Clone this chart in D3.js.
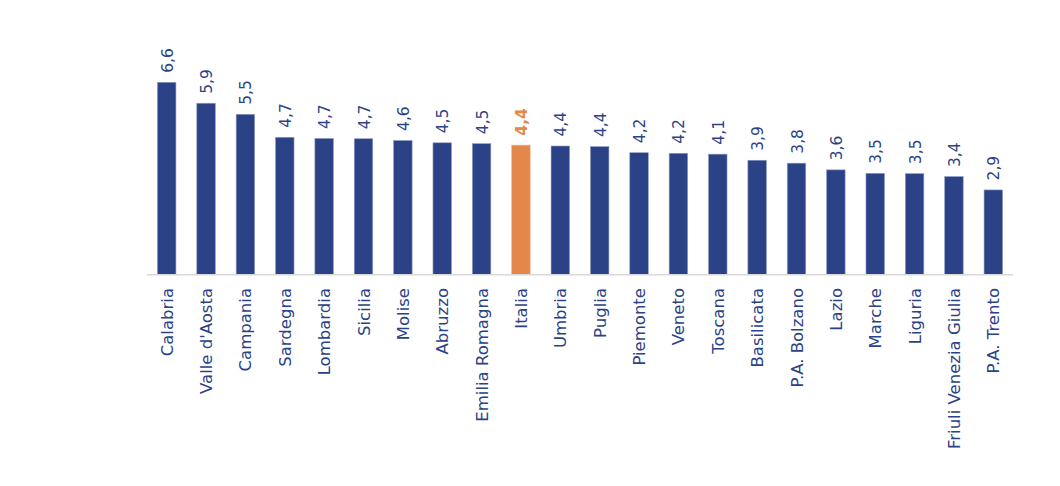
<!DOCTYPE html>
<html>
<head>
<meta charset="utf-8">
<script src="https://cdn.jsdelivr.net/npm/d3@7"></script>
<style>
  body { margin: 0; background: #fff; }
  svg text { font-family: "DejaVu Sans", sans-serif; }
</style>
</head>
<body>
<svg id="chart"></svg>
<script>
const width = 1060, height = 486;

const regions = ["Calabria", "Valle d'Aosta", "Campania", "Sardegna", "Lombardia", "Sicilia", "Molise",
    "Abruzzo", "Emilia Romagna", "Italia", "Umbria", "Puglia", "Piemonte", "Veneto", "Toscana",
    "Basilicata", "P.A. Bolzano", "Lazio", "Marche", "Liguria", "Friuli Venezia Giulia", "P.A. Trento"];
const values = [6.60, 5.88, 5.50, 4.71, 4.67, 4.66, 4.60, 4.52, 4.49, 4.44, 4.41, 4.39, 4.18, 4.16,
    4.13, 3.92, 3.82, 3.59, 3.47, 3.46, 3.36, 2.90];
const highlight = "Italia";

const data = regions.map((r, i) => ({name: r, value: values[i]}));

const svg = d3.select("#chart").attr("width", width).attr("height", height);

const baseY = 274.3;
const x = d3.scaleBand()
    .domain(regions)
    .range([147, 1013])
    .paddingInner(0.53)
    .paddingOuter(0.265);
const y = d3.scaleLinear().domain([0, 6.6]).range([baseY, 82.3]);

const blue = "#2B4386", orange = "#E3874A";
const fmt = v => d3.format(".1f")(v).replace(".", ",");

// bars
svg.selectAll(".bar")
    .data(data)
    .enter().append("rect")
    .attr("class", "bar")
    .attr("x", d => x(d.name))
    .attr("width", x.bandwidth())
    .attr("y", d => y(d.value))
    .attr("height", d => baseY - y(d.value))
    .attr("fill", d => d.name === highlight ? orange : blue)
    .attr("stroke", d => d.name === highlight ? "#f0b48c" : "#8e9cc4")
    .attr("stroke-width", 0.6);

// baseline
svg.append("line")
    .attr("x1", x.range()[0]).attr("x2", x.range()[1])
    .attr("y1", baseY + 0.5).attr("y2", baseY + 0.5)
    .attr("stroke", "#d9d9d9")
    .attr("stroke-width", 1.5);

// value labels
svg.selectAll(".val")
    .data(data)
    .enter().append("text")
    .attr("class", "val")
    .attr("transform", d => `translate(${x(d.name) + x.bandwidth() / 2 + 6},${y(d.value) - 9.5}) rotate(-90)`)
    .attr("text-anchor", "start")
    .attr("font-size", 15.5)
    .attr("font-weight", d => d.name === highlight ? "bold" : "normal")
    .attr("fill", d => d.name === highlight ? orange : blue)
    .text(d => fmt(d.value));

// category labels
svg.selectAll(".cat")
    .data(data)
    .enter().append("text")
    .attr("class", "cat")
    .attr("transform", d => `translate(${x(d.name) + x.bandwidth() / 2 + 6},288) rotate(-90)`)
    .attr("text-anchor", "end")
    .attr("font-size", 16.5)
    .attr("fill", blue)
    .text(d => d.name);
</script>
</body>
</html>
